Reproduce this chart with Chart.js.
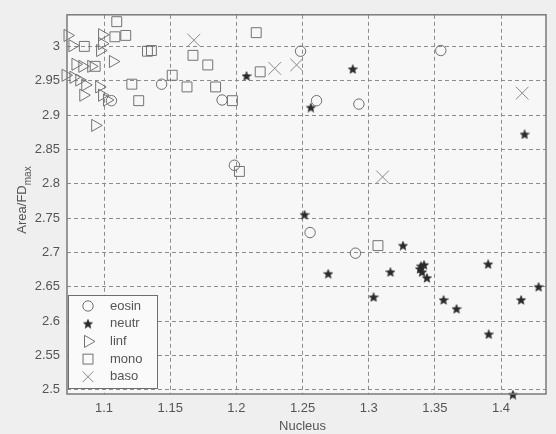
<!DOCTYPE html>
<html><head><meta charset="utf-8">
<script src="https://cdn.jsdelivr.net/npm/chart.js@4/dist/chart.umd.min.js"></script>
<style>html,body{margin:0;padding:0;background:#efefef;overflow:hidden;}</style>
</head><body>
<canvas id="c" width="556" height="434"></canvas>
<script>
const xTicks = [1.1, 1.15, 1.2, 1.25, 1.3, 1.35, 1.4];
const yTicks = [2.5, 2.55, 2.6, 2.65, 2.7, 2.75, 2.8, 2.85, 2.9, 2.95, 3];
const xTitle = 'Nucleus';
const yTitleMain = 'Area/FD';
const yTitleSub = 'max';
const seriesNames = ['eosin', 'neutr', 'linf', 'mono', 'baso'];

const eosinX = [1.1435, 1.1056, 1.1892, 1.2485, 1.2606, 1.2926, 1.3545, 1.1985, 1.2557, 1.290];
const eosinY = [2.945, 2.921, 2.922, 2.993, 2.921, 2.916, 2.994, 2.827, 2.729, 2.699];

const neutrX = [1.2077, 1.288, 1.2563, 1.4178, 1.2515, 1.2694, 1.3259, 1.3164, 1.3396, 1.3418, 1.3388, 1.3403, 1.344, 1.3903, 1.4284, 1.3037, 1.3566, 1.3664, 1.4152, 1.3907, 1.409];
const neutrY = [2.957, 2.967, 2.911, 2.872, 2.755, 2.669, 2.710, 2.6715, 2.680, 2.682, 2.676, 2.6715, 2.663, 2.683, 2.650, 2.635, 2.631, 2.618, 2.631, 2.581, 2.493];

const linfX = [1.0724, 1.0761, 1.0985, 1.0985, 1.097, 1.1067, 1.0784, 1.0836, 1.0903, 1.0709, 1.0769, 1.0813, 1.0858, 1.0963, 1.0843, 1.0985, 1.1022, 1.0933];
const linfY = [3.016, 3.001, 3.017, 3.004, 2.994, 2.978, 2.974, 2.971, 2.971, 2.958, 2.955, 2.951, 2.944, 2.941, 2.929, 2.929, 2.922, 2.885];

const monoX = [1.1096, 1.1082, 1.1164, 1.0851, 1.1328, 1.1358, 1.0933, 1.1515, 1.121, 1.1262, 1.1672, 1.1784, 1.1627, 1.1843, 1.197, 1.215, 1.218, 1.2023, 1.307];
const monoY = [3.036, 3.014, 3.016, 3.0, 2.993, 2.994, 2.971, 2.958, 2.945, 2.921, 2.987, 2.973, 2.941, 2.941, 2.921, 3.020, 2.963, 2.818, 2.710];

const basoX = [1.1679, 1.229, 1.2455, 1.416, 1.3105];
const basoY = [3.009, 2.968, 2.973, 2.932, 2.810];

function pts(xs, ys) { return xs.map((x, i) => ({ x: x, y: ys[i] })); }

function makeStar(size, color) {
  const c = document.createElement('canvas');
  c.width = size; c.height = size;
  const g = c.getContext('2d');
  const cx = size / 2, cy = size / 2 + 0.4, R = size / 2 - 0.2, r = R * 0.45;
  g.beginPath();
  for (let i = 0; i < 10; i++) {
    const a = -Math.PI / 2 + i * Math.PI / 5;
    const rr = (i % 2) ? r : R;
    g.lineTo(cx + rr * Math.cos(a), cy + rr * Math.sin(a));
  }
  g.closePath();
  g.fillStyle = color; g.fill();
  g.strokeStyle = color; g.lineWidth = 0.6; g.stroke();
  return c;
}
const starImg = makeStar(10, '#2b2b2b');

const styles = [
  { pointStyle: 'circle', radius: 5.2, color: '#6e6e6e', rotation: 0 },
  { pointStyle: starImg, radius: 5, color: '#2b2b2b', rotation: 0 },
  { pointStyle: 'triangle', radius: 7, color: '#737373', rotation: 90 },
  { pointStyle: 'rect', radius: 7, color: '#737373', rotation: 0 },
  { pointStyle: 'crossRot', radius: 9, color: '#8a8a8a', rotation: 0 }
];
const dataSets = [pts(eosinX, eosinY), pts(neutrX, neutrY), pts(linfX, linfY), pts(monoX, monoY), pts(basoX, basoY)];

const FONT = '"Liberation Sans", Arial, sans-serif';
const TXT = '#555555';

function drawMarker(ctx, s, x, y) {
  ctx.save();
  ctx.strokeStyle = s.color; ctx.fillStyle = s.color; ctx.lineWidth = 1;
  if (typeof s.pointStyle === 'object') {
    ctx.drawImage(s.pointStyle, x - s.pointStyle.width / 2, y - s.pointStyle.height / 2);
  } else if (s.pointStyle === 'circle') {
    ctx.beginPath(); ctx.arc(x, y, s.radius, 0, Math.PI * 2); ctx.stroke();
  } else if (s.pointStyle === 'triangle') {
    const r = s.radius;
    ctx.beginPath();
    ctx.moveTo(x + r, y);
    ctx.lineTo(x - r / 2, y - r * 0.866);
    ctx.lineTo(x - r / 2, y + r * 0.866);
    ctx.closePath(); ctx.stroke();
  } else if (s.pointStyle === 'rect') {
    const h = s.radius * Math.SQRT1_2;
    ctx.strokeRect(x - h, y - h, 2 * h, 2 * h);
  } else if (s.pointStyle === 'crossRot') {
    const o = s.radius * Math.SQRT1_2;
    ctx.beginPath();
    ctx.moveTo(x - o, y - o); ctx.lineTo(x + o, y + o);
    ctx.moveTo(x - o, y + o); ctx.lineTo(x + o, y - o);
    ctx.stroke();
  }
  ctx.restore();
}

const framePlugin = {
  id: 'framePlugin',
  beforeDraw(chart) {
    const { ctx, chartArea: a } = chart;
    ctx.save();
    ctx.fillStyle = '#f7f7f7';
    ctx.fillRect(a.left, a.top, a.right - a.left, a.bottom - a.top);
    ctx.restore();
  },
  afterDraw(chart) {
    const { ctx, chartArea: a } = chart;
    ctx.save();
    // frame
    ctx.strokeStyle = '#7a7a7a'; ctx.lineWidth = 1.5;
    ctx.strokeRect(a.left, a.top, a.right - a.left, a.bottom - a.top);
    // axis titles
    ctx.fillStyle = TXT;
    ctx.font = '13px ' + FONT;
    ctx.textAlign = 'center'; ctx.textBaseline = 'middle';
    ctx.fillText(xTitle, (a.left + a.right) / 2 - 4, 426);
    ctx.translate(22, 200);
    ctx.rotate(-Math.PI / 2);
    const wMain = ctx.measureText(yTitleMain).width;
    ctx.font = '10px ' + FONT;
    const wSub = ctx.measureText(yTitleSub).width;
    const total = wMain + wSub;
    ctx.textAlign = 'left';
    ctx.font = '13px ' + FONT;
    ctx.fillText(yTitleMain, -total / 2, 0);
    ctx.font = '10px ' + FONT;
    ctx.fillText(yTitleSub, -total / 2 + wMain, 6);
    ctx.restore();

    // legend
    ctx.save();
    const lx = 68, ly = 295, lw = 89, lh = 93;
    ctx.fillStyle = '#fafafa';
    ctx.fillRect(lx, ly, lw, lh);
    ctx.strokeStyle = '#6f6f6f'; ctx.lineWidth = 1;
    ctx.strokeRect(lx + 0.5, ly + 0.5, lw, lh);
    ctx.font = '13px ' + FONT;
    ctx.fillStyle = TXT;
    ctx.textAlign = 'left'; ctx.textBaseline = 'middle';
    seriesNames.forEach((name, i) => {
      const y = 306 + i * 17.7;
      drawMarker(ctx, Object.assign({}, styles[i], { radius: i === 4 ? 7.5 : styles[i].radius }), 88, y);
      ctx.fillStyle = TXT;
      ctx.fillText(name, 110, y);
    });
    ctx.restore();
  }
};

const chart = new Chart(document.getElementById('c'), {
  type: 'scatter',
  data: {
    datasets: seriesNames.map((n, i) => ({
      label: n,
      data: dataSets[i],
      pointStyle: styles[i].pointStyle,
      pointRadius: styles[i].radius,
      pointRotation: styles[i].rotation,
      pointBorderColor: styles[i].color,
      pointBackgroundColor: 'rgba(0,0,0,0)',
      pointBorderWidth: 1,
      showLine: false,
      clip: false
    }))
  },
  options: {
    responsive: false,
    animation: false,
    events: [],
    layout: { padding: { left: 0, top: 11, right: 8, bottom: 0 } },
    plugins: { legend: { display: false }, tooltip: { enabled: false } },
    scales: {
      x: {
        type: 'linear', min: 1.072, max: 1.434,
        afterBuildTicks: s => { s.ticks = xTicks.map(v => ({ value: v })); },
        afterFit: s => { s.height = 40; },
        grid: { color: '#8c8c8c', lineWidth: 1, drawTicks: false },
        border: { display: false, dash: [4, 3] },
        ticks: { color: TXT, font: { family: FONT, size: 13 }, padding: 7, maxRotation: 0, autoSkip: false,
                 callback: v => String(+Number(v).toFixed(2)) }
      },
      y: {
        type: 'linear', min: 2.494, max: 3.046,
        afterBuildTicks: s => { s.ticks = yTicks.map(v => ({ value: v })); },
        afterFit: s => { s.width = 67; },
        grid: { color: '#8c8c8c', lineWidth: 1, drawTicks: false },
        border: { display: false, dash: [4, 3] },
        ticks: { color: TXT, font: { family: FONT, size: 13 }, padding: 7, autoSkip: false,
                 callback: v => String(+Number(v).toFixed(2)) }
      }
    }
  },
  plugins: [framePlugin]
});
</script>
</body></html>
